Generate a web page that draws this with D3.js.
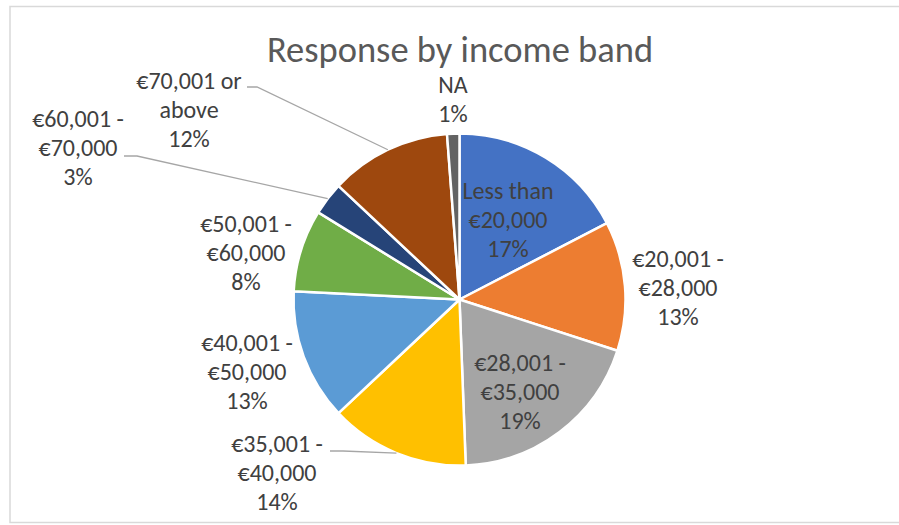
<!DOCTYPE html>
<html>
<head>
<meta charset="utf-8">
<script src="https://cdn.jsdelivr.net/npm/d3@7"></script>
<style>
  body { margin: 0; background: #fff; }
  text { font-family: Carlito, Calibri, Lato, sans-serif; }
</style>
</head>
<body>
<div id="chart"></div>
<script>
// --- data ---
const bands = ["Less than €20,000", "€20,001 - €28,000", "€28,001 - €35,000", "€35,001 - €40,000",
  "€40,001 - €50,000", "€50,001 - €60,000", "€60,001 - €70,000", "€70,001 or above", "NA"];
const labelLines = [["Less than", "€20,000"], ["€20,001 -", "€28,000"], ["€28,001 -", "€35,000"],
  ["€35,001 -", "€40,000"], ["€40,001 -", "€50,000"], ["€50,001 -", "€60,000"],
  ["€60,001 -", "€70,000"], ["€70,001 or", "above"], ["NA"]];
const shares = [17.4, 12.6, 19.4, 13.6, 12.8, 8.0, 3.2, 11.8, 1.2];
const colors = ["#4472C4", "#ED7D31", "#A5A5A5", "#FFC000", "#5B9BD5", "#70AD47", "#264478", "#9E480E", "#636363"];

// label placement (center of first line) and leader line starts, like Excel's best fit
const labelPos = [[508, 190], [678, 258], [520, 362], [277, 443], [247, 342], [246, 223], [78, 118], [189, 80], [453, 84]];
const leaders = { 3: [330, 451, 343], 6: [124, 156, 137], 7: [247, 87, 257] };

const width = 899, height = 525;
const cx = 459.5, cy = 299.5, radius = 166;
const lineH = 29;

const svg = d3.select("#chart").append("svg")
  .attr("width", width).attr("height", height);

// chart area border
svg.append("rect")
  .attr("x", 10).attr("y", 6.5).attr("width", 900).attr("height", 516)
  .attr("fill", "none").attr("stroke", "#d9d9d9").attr("stroke-width", 1.5);

svg.append("text")
  .attr("x", 460).attr("y", 62)
  .attr("text-anchor", "middle")
  .attr("font-size", "36.5px")
  .attr("fill", "#595959")
  .text("Response by income band");

const total = d3.sum(shares);
const pie = d3.pie().sort(null).value(d => d);
const arcs = pie(shares);
const arc = d3.arc().innerRadius(0).outerRadius(radius);

const g = svg.append("g").attr("transform", `translate(${cx},${cy})`);

g.selectAll("path.slice")
  .data(arcs)
  .enter().append("path")
  .attr("class", "slice")
  .attr("d", arc)
  .attr("fill", (d, i) => colors[i])
  .attr("stroke", "#fff")
  .attr("stroke-width", 2.5)
  .attr("stroke-linejoin", "round");

// leader lines: from label to the middle of the slice's edge
arcs.forEach((d, i) => {
  if (!leaders[i]) return;
  const [x0, y0, x1] = leaders[i];
  const mid = (d.startAngle + d.endAngle) / 2;
  const ex = cx + radius * Math.sin(mid);
  const ey = cy - radius * Math.cos(mid);
  svg.append("polyline")
    .attr("points", `${x0},${y0} ${x1},${y0} ${ex},${ey}`)
    .attr("fill", "none")
    .attr("stroke", "#a6a6a6")
    .attr("stroke-width", 1.3);
});

// data labels
arcs.forEach((d, i) => {
  const lines = labelLines[i].concat([Math.round(d.data / total * 100) + "%"]);
  const t = svg.append("text")
    .attr("text-anchor", "middle")
    .attr("font-size", "24px")
    .attr("fill", "#404040");
  lines.forEach((s, k) => {
    t.append("tspan")
      .attr("x", labelPos[i][0])
      .attr("y", labelPos[i][1] + k * lineH)
      .attr("dy", "0.36em")
      .text(s);
  });
});
</script>
</body>
</html>
